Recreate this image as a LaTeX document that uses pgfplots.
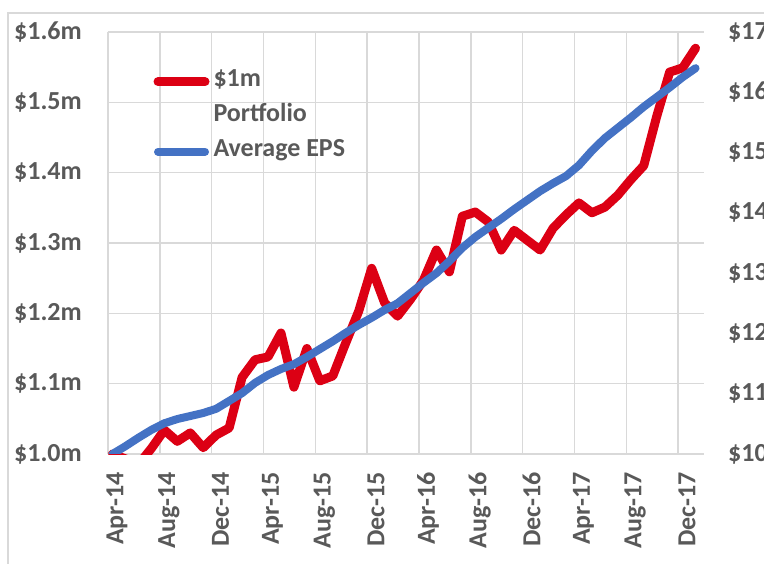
\documentclass[border=0pt]{standalone}
\usepackage{pgfplots}
\pgfplotsset{compat=1.18}
\usepackage{fontspec}
\setmainfont{Carlito}
\definecolor{txt}{RGB}{89,89,89}
\definecolor{gridc}{RGB}{217,217,217}
\definecolor{redl}{RGB}{220,0,20}
\definecolor{bluel}{RGB}{68,114,196}
\begin{document}
\begin{tikzpicture}[x=1pt,y=1pt]
\useasboundingbox (0,0) rectangle (764,563);
\clip (0,0) rectangle (764,563);
\draw[gridc, line width=1.5pt] (8,-10) -- (8,550) -- (790,550);
\begin{axis}[
  at={(108pt,109pt)}, anchor=south west,
  width=596pt, height=422pt, scale only axis,
  xmin=0, xmax=46, ymin=1.0, ymax=1.6,
  axis x line*=bottom, axis y line*=left,
  axis line style={draw=none},
  major tick length=0pt,
  xmajorgrids, ymajorgrids,
  major grid style={gridc, line width=1.5pt},
  xtick={0,4,8,12,16,20,24,28,32,36,40,44},
  xticklabels={Apr-14,Aug-14,Dec-14,Apr-15,Aug-15,Dec-15,Apr-16,Aug-16,Dec-16,Apr-17,Aug-17,Dec-17},
  ytick={1.0,1.1,1.2,1.3,1.4,1.5,1.6},
  yticklabels={\$1.0m,\$1.1m,\$1.2m,\$1.3m,\$1.4m,\$1.5m,\$1.6m},
  tick label style={font=\fontsize{26}{30}\selectfont\bfseries, text=txt},
  yticklabel style={anchor=east, inner sep=0pt, xshift=-26pt},
  xticklabel style={xshift=9pt, yshift=-18pt, rotate=90, anchor=east, inner sep=0pt},
]
\addplot[redl, line width=9pt, line join=round, line cap=round] coordinates {
(0.35,1.000)(1.35,0.993)(2.35,0.985)(3.35,1.008)(4.35,1.034)(5.35,1.018)(6.35,1.030)(7.35,1.009)(8.35,1.027)(9.35,1.037)(10.35,1.109)(11.35,1.134)(12.35,1.138)(13.35,1.172)(14.35,1.095)(15.35,1.150)(16.35,1.104)(17.35,1.111)(18.35,1.158)(19.35,1.203)(20.35,1.264)(21.35,1.215)(22.35,1.196)(23.35,1.220)(24.35,1.247)(25.35,1.290)(26.35,1.259)(27.35,1.338)(28.35,1.344)(29.35,1.330)(30.35,1.290)(31.35,1.318)(32.35,1.304)(33.35,1.290)(34.35,1.321)(35.35,1.340)(36.35,1.357)(37.35,1.343)(38.35,1.351)(39.35,1.368)(40.35,1.390)(41.35,1.410)(42.35,1.480)(43.35,1.543)(44.35,1.549)(45.35,1.577)
};
\end{axis}
\begin{axis}[
  at={(108pt,109pt)}, anchor=south west,
  width=596pt, height=422pt, scale only axis,
  xmin=0, xmax=46, ymin=10, ymax=17,
  axis x line=none, axis y line*=right,
  axis line style={draw=none},
  major tick length=0pt,
  ytick={10,11,12,13,14,15,16,17},
  yticklabels={\$10,\$11,\$12,\$13,\$14,\$15,\$16,\$17},
  tick label style={font=\fontsize{26}{30}\selectfont\bfseries, text=txt},
  yticklabel style={anchor=west, inner sep=0pt, xshift=24pt},
  legend image code/.code={\draw[#1, line cap=round] (0pt,5pt) -- (47pt,5pt);},
  legend style={at={(rel axis cs:0.071,0.923)}, anchor=north west, draw=none, fill=none,
    font=\fontsize{26}{30}\selectfont\bfseries, text=txt, row sep=8pt, column sep=3pt,
    nodes={inner sep=1pt, text height=19pt, text depth=6pt, anchor=base west}},
  legend cell align=left,
]
\addlegendimage{redl, line width=9pt}
\addlegendentry{\$1m}
\addlegendimage{empty legend}
\addlegendentry{Portfolio}
\addplot[bluel, line width=8pt, line join=round, line cap=round] coordinates {
(0.35,10.00)(1.35,10.13)(2.35,10.27)(3.35,10.40)(4.35,10.51)(5.35,10.58)(6.35,10.63)(7.35,10.68)(8.35,10.75)(9.35,10.88)(10.35,11.01)(11.35,11.18)(12.35,11.31)(13.35,11.41)(14.35,11.49)(15.35,11.61)(16.35,11.74)(17.35,11.87)(18.35,12.01)(19.35,12.14)(20.35,12.26)(21.35,12.39)(22.35,12.50)(23.35,12.67)(24.35,12.84)(25.35,13.00)(26.35,13.20)(27.35,13.42)(28.35,13.60)(29.35,13.75)(30.35,13.90)(31.35,14.06)(32.35,14.21)(33.35,14.36)(34.35,14.49)(35.35,14.61)(36.35,14.79)(37.35,15.03)(38.35,15.24)(39.35,15.41)(40.35,15.58)(41.35,15.76)(42.35,15.92)(43.35,16.08)(44.35,16.25)(45.35,16.40)
};
\addlegendentry{Average EPS}
\end{axis}
\end{tikzpicture}
\end{document}
